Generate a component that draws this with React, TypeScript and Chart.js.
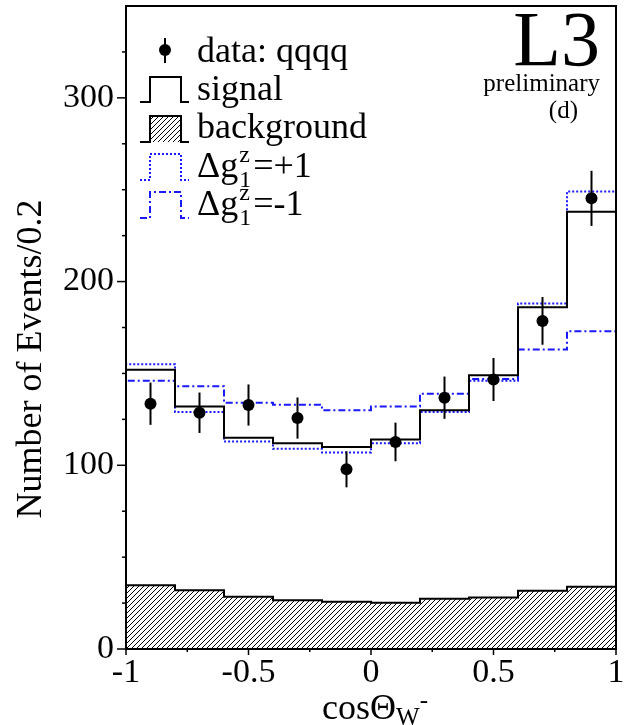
import { useEffect, useRef } from 'react';
import { Chart, registerables } from 'chart.js';

Chart.register(...registerables);

// Histogram binning in cos(theta_W-)
const binEdges = [-1, -0.8, -0.6, -0.4, -0.2, 0, 0.2, 0.4, 0.6, 0.8, 1];
const binCenters = [-0.9, -0.7, -0.5, -0.3, -0.1, 0.1, 0.3, 0.5, 0.7, 0.9];

// Measured qqqq events with statistical errors
const dataCounts = [133.5, 128.6, 132.8, 125.7, 97.8, 112.7, 136.8, 146.7, 178.6, 245.3];
const dataErrors = [11.5, 11, 11.2, 11.2, 9.8, 10.5, 11.5, 11.7, 13, 15];

// Monte Carlo expectations per bin
const signalCounts = [152, 132, 115, 112, 110, 114, 130, 149, 186, 238];
const plusOneCounts = [155, 129, 113, 109, 107, 112, 129, 146, 188, 249];
const minusOneCounts = [146, 143, 134, 133, 130, 132, 139, 147, 163, 173];
const backgroundCounts = [34.7, 32, 28.5, 26.6, 25.7, 25.2, 27.4, 28.1, 31.7, 33.9];

// Axis ticks
const xTickValues = [-1, -0.5, 0, 0.5, 1];
const xTickLabels = ['-1', '-0.5', '0', '0.5', '1'];
const xMinorTicks = [-0.75, -0.25, 0.25, 0.75];
const yTickValues = [0, 100, 200, 300];
const yTickLabels = ['0', '100', '200', '300'];
const yMinorTicks = [25, 50, 75, 125, 150, 175, 225, 250, 275, 325];

const SERIF = '"Liberation Serif", "Times New Roman", serif';
const BLUE = 'rgb(25, 25, 255)';
const DOTTED = [2, 2];
const DASHDOT = [7, 3, 2, 3];

// Turn bin contents into a closed step outline starting and ending on zero
function histPoints(counts: number[]) {
  const pts = [{ x: binEdges[0], y: 0 }];
  counts.forEach((c, i) => pts.push({ x: binEdges[i], y: c }));
  pts.push({ x: binEdges[binEdges.length - 1], y: counts[counts.length - 1] });
  pts.push({ x: binEdges[binEdges.length - 1], y: 0 });
  return pts;
}

// Crisp one-pixel "////" hatching tile
function makeHatch(ctx: CanvasRenderingContext2D) {
  const s = 5;
  const c = document.createElement('canvas');
  c.width = s;
  c.height = s;
  const g = c.getContext('2d')!;
  g.fillStyle = '#fff';
  g.fillRect(0, 0, s, s);
  g.fillStyle = '#000';
  for (let i = 0; i < s; i++) {
    g.fillRect(s - 1 - i, i, 1, 1);
  }
  return ctx.createPattern(c, 'repeat')!;
}

function stepSymbol(ctx: CanvasRenderingContext2D, top: number, bottom: number) {
  ctx.beginPath();
  ctx.moveTo(140, bottom);
  ctx.lineTo(150, bottom);
  ctx.lineTo(150, top);
  ctx.lineTo(181, top);
  ctx.lineTo(181, bottom);
  ctx.lineTo(189, bottom);
  ctx.stroke();
}

function couplingLabel(ctx: CanvasRenderingContext2D, x: number, base: number, tail: string) {
  ctx.font = `36px ${SERIF}`;
  ctx.fillText('\u0394g', x, base);
  let cx = x + ctx.measureText('\u0394g').width + 1;
  ctx.font = `24px ${SERIF}`;
  ctx.fillText('z', cx, base - 15);
  ctx.fillText('1', cx, base + 10);
  cx += Math.max(ctx.measureText('z').width, ctx.measureText('1').width) + 2;
  ctx.font = `36px ${SERIF}`;
  ctx.fillText(tail, cx, base);
}

export default function App() {
  const ref = useRef<HTMLCanvasElement>(null);

  useEffect(() => {
    const canvas = ref.current!;
    const ctx0 = canvas.getContext('2d')!;
    const hatch = makeHatch(ctx0);

    const decorations = {
      id: 'decorations',
      afterDatasetsDraw(chart: any) {
        const { ctx, chartArea: a, scales } = chart;
        const x = scales.x;
        const y = scales.y;
        ctx.save();

        // error bars of the data points
        ctx.strokeStyle = '#000';
        ctx.lineWidth = 2;
        ctx.setLineDash([]);
        binCenters.forEach((c, i) => {
          const px = x.getPixelForValue(c);
          ctx.beginPath();
          ctx.moveTo(px, y.getPixelForValue(dataCounts[i] - dataErrors[i]));
          ctx.lineTo(px, y.getPixelForValue(dataCounts[i] + dataErrors[i]));
          ctx.stroke();
        });

        // frame
        ctx.strokeRect(a.left, a.top, a.right - a.left, a.bottom - a.top);

        // tick marks
        ctx.lineWidth = 1.5;
        const xt = (v: number, len: number) => {
          const px = x.getPixelForValue(v);
          ctx.beginPath();
          ctx.moveTo(px, a.bottom);
          ctx.lineTo(px, a.bottom + len);
          ctx.stroke();
        };
        const yt = (v: number, len: number) => {
          const py = y.getPixelForValue(v);
          ctx.beginPath();
          ctx.moveTo(a.left, py);
          ctx.lineTo(a.left - len, py);
          ctx.stroke();
        };
        xTickValues.forEach((v) => xt(v, 6));
        xMinorTicks.forEach((v) => xt(v, 3));
        yTickValues.forEach((v) => yt(v, 9));
        yMinorTicks.forEach((v) => yt(v, 4));
        ctx.restore();
      },
      afterDraw(chart: any) {
        const { ctx } = chart;
        ctx.save();
        ctx.fillStyle = '#000';
        ctx.strokeStyle = '#000';
        ctx.textBaseline = 'alphabetic';

        // y title
        ctx.save();
        ctx.translate(41, 359);
        ctx.rotate(-Math.PI / 2);
        ctx.textAlign = 'center';
        ctx.font = `36px ${SERIF}`;
        ctx.fillText('Number of Events/0.2', 0, 0);
        ctx.restore();

        // x title: cosΘ_W^-
        ctx.textAlign = 'left';
        ctx.font = `36px ${SERIF}`;
        const main = 'cos\u0398';
        const wMain = ctx.measureText(main).width;
        ctx.font = `25px ${SERIF}`;
        const wSub = ctx.measureText('W').width;
        const wSup = ctx.measureText('-').width;
        let tx = 375 - (wMain + wSub + wSup) / 2;
        ctx.font = `36px ${SERIF}`;
        ctx.fillText(main, tx, 719);
        tx += wMain;
        ctx.font = `25px ${SERIF}`;
        ctx.fillText('W', tx, 725);
        ctx.fillText('-', tx + wSub, 708);

        // experiment label
        ctx.textAlign = 'right';
        ctx.font = `78px ${SERIF}`;
        ctx.fillText('L3', 600, 65);
        ctx.font = `25px ${SERIF}`;
        ctx.fillText('preliminary', 600, 91);
        ctx.fillText('(d)', 578, 118);

        // legend
        ctx.textAlign = 'left';
        ctx.lineWidth = 2;
        ctx.setLineDash([]);
        ctx.beginPath();
        ctx.moveTo(165, 38);
        ctx.lineTo(165, 63);
        ctx.stroke();
        ctx.beginPath();
        ctx.arc(165, 50, 6, 0, Math.PI * 2);
        ctx.fill();
        ctx.font = `36px ${SERIF}`;
        ctx.fillText('data: qqqq', 197, 62);

        stepSymbol(ctx, 77, 102);
        ctx.fillText('signal', 197, 100);

        ctx.fillStyle = hatch;
        ctx.fillRect(150, 116, 31, 26);
        ctx.fillStyle = '#000';
        stepSymbol(ctx, 116, 142);
        ctx.fillText('background', 197, 138);

        ctx.strokeStyle = BLUE;
        ctx.setLineDash(DOTTED);
        stepSymbol(ctx, 154, 180);
        ctx.setLineDash(DASHDOT);
        stepSymbol(ctx, 192, 218);
        ctx.setLineDash([]);
        couplingLabel(ctx, 197, 177, '=+1');
        couplingLabel(ctx, 197, 215, '=-1');

        ctx.restore();
      },
    };

    const stepLine = (label: string, counts: number[], color: string, dash: number[], order: number) => ({
      type: 'line' as const,
      label,
      data: histPoints(counts),
      borderColor: color,
      borderWidth: 2,
      borderDash: dash,
      stepped: 'before' as const,
      pointRadius: 0,
      fill: false,
      order,
    });

    const chart = new Chart(canvas, {
      type: 'line',
      data: {
        datasets: [
          {
            type: 'scatter',
            label: 'data: qqqq',
            data: binCenters.map((c, i) => ({ x: c, y: dataCounts[i] })),
            pointRadius: 6,
            pointBackgroundColor: '#000',
            pointBorderWidth: 0,
            showLine: false,
            order: 0,
          } as any,
          stepLine('signal', signalCounts, '#000', [], 1),
          stepLine('\u0394g1z=+1', plusOneCounts, BLUE, DOTTED, 2),
          stepLine('\u0394g1z=-1', minusOneCounts, BLUE, DASHDOT, 3),
          {
            type: 'line',
            label: 'background',
            data: histPoints(backgroundCounts),
            borderColor: '#000',
            borderWidth: 2,
            stepped: 'before',
            pointRadius: 0,
            fill: 'origin',
            backgroundColor: hatch,
            order: 4,
          } as any,
        ],
      },
      options: {
        responsive: false,
        animation: false,
        devicePixelRatio: 1,
        events: [],
        layout: { padding: { top: 6, right: 12, left: 0, bottom: 0 } },
        plugins: { legend: { display: false }, tooltip: { enabled: false } },
        scales: {
          x: {
            type: 'linear',
            min: -1,
            max: 1,
            afterFit: (s: any) => {
              s.height = 76;
              s.paddingLeft = 0;
              s.paddingRight = 0;
            },
            afterBuildTicks: (s: any) => {
              s.ticks = xTickValues.map((v) => ({ value: v }));
            },
            grid: { display: false, drawTicks: false },
            border: { display: false },
            ticks: {
              color: '#000',
              padding: 4,
              maxRotation: 0,
              autoSkip: false,
              font: { family: SERIF, size: 34 },
              callback: (v: any) => xTickLabels[xTickValues.indexOf(Number(v))] ?? '',
            },
          },
          y: {
            type: 'linear',
            min: 0,
            max: 350,
            afterFit: (s: any) => {
              s.width = 126;
              s.paddingTop = 0;
              s.paddingBottom = 0;
            },
            afterBuildTicks: (s: any) => {
              s.ticks = yTickValues.map((v) => ({ value: v }));
            },
            grid: { display: false, drawTicks: false },
            border: { display: false },
            ticks: {
              color: '#000',
              padding: 12,
              autoSkip: false,
              font: { family: SERIF, size: 34 },
              callback: (v: any) => yTickLabels[yTickValues.indexOf(Number(v))] ?? '',
            },
          },
        },
      },
      plugins: [decorations],
    } as any);

    return () => chart.destroy();
  }, []);

  return (
    <div style={{ position: 'absolute', left: 0, top: 0, background: '#fff' }}>
      <canvas ref={ref} width={628} height={725} style={{ display: 'block' }} />
    </div>
  );
}
